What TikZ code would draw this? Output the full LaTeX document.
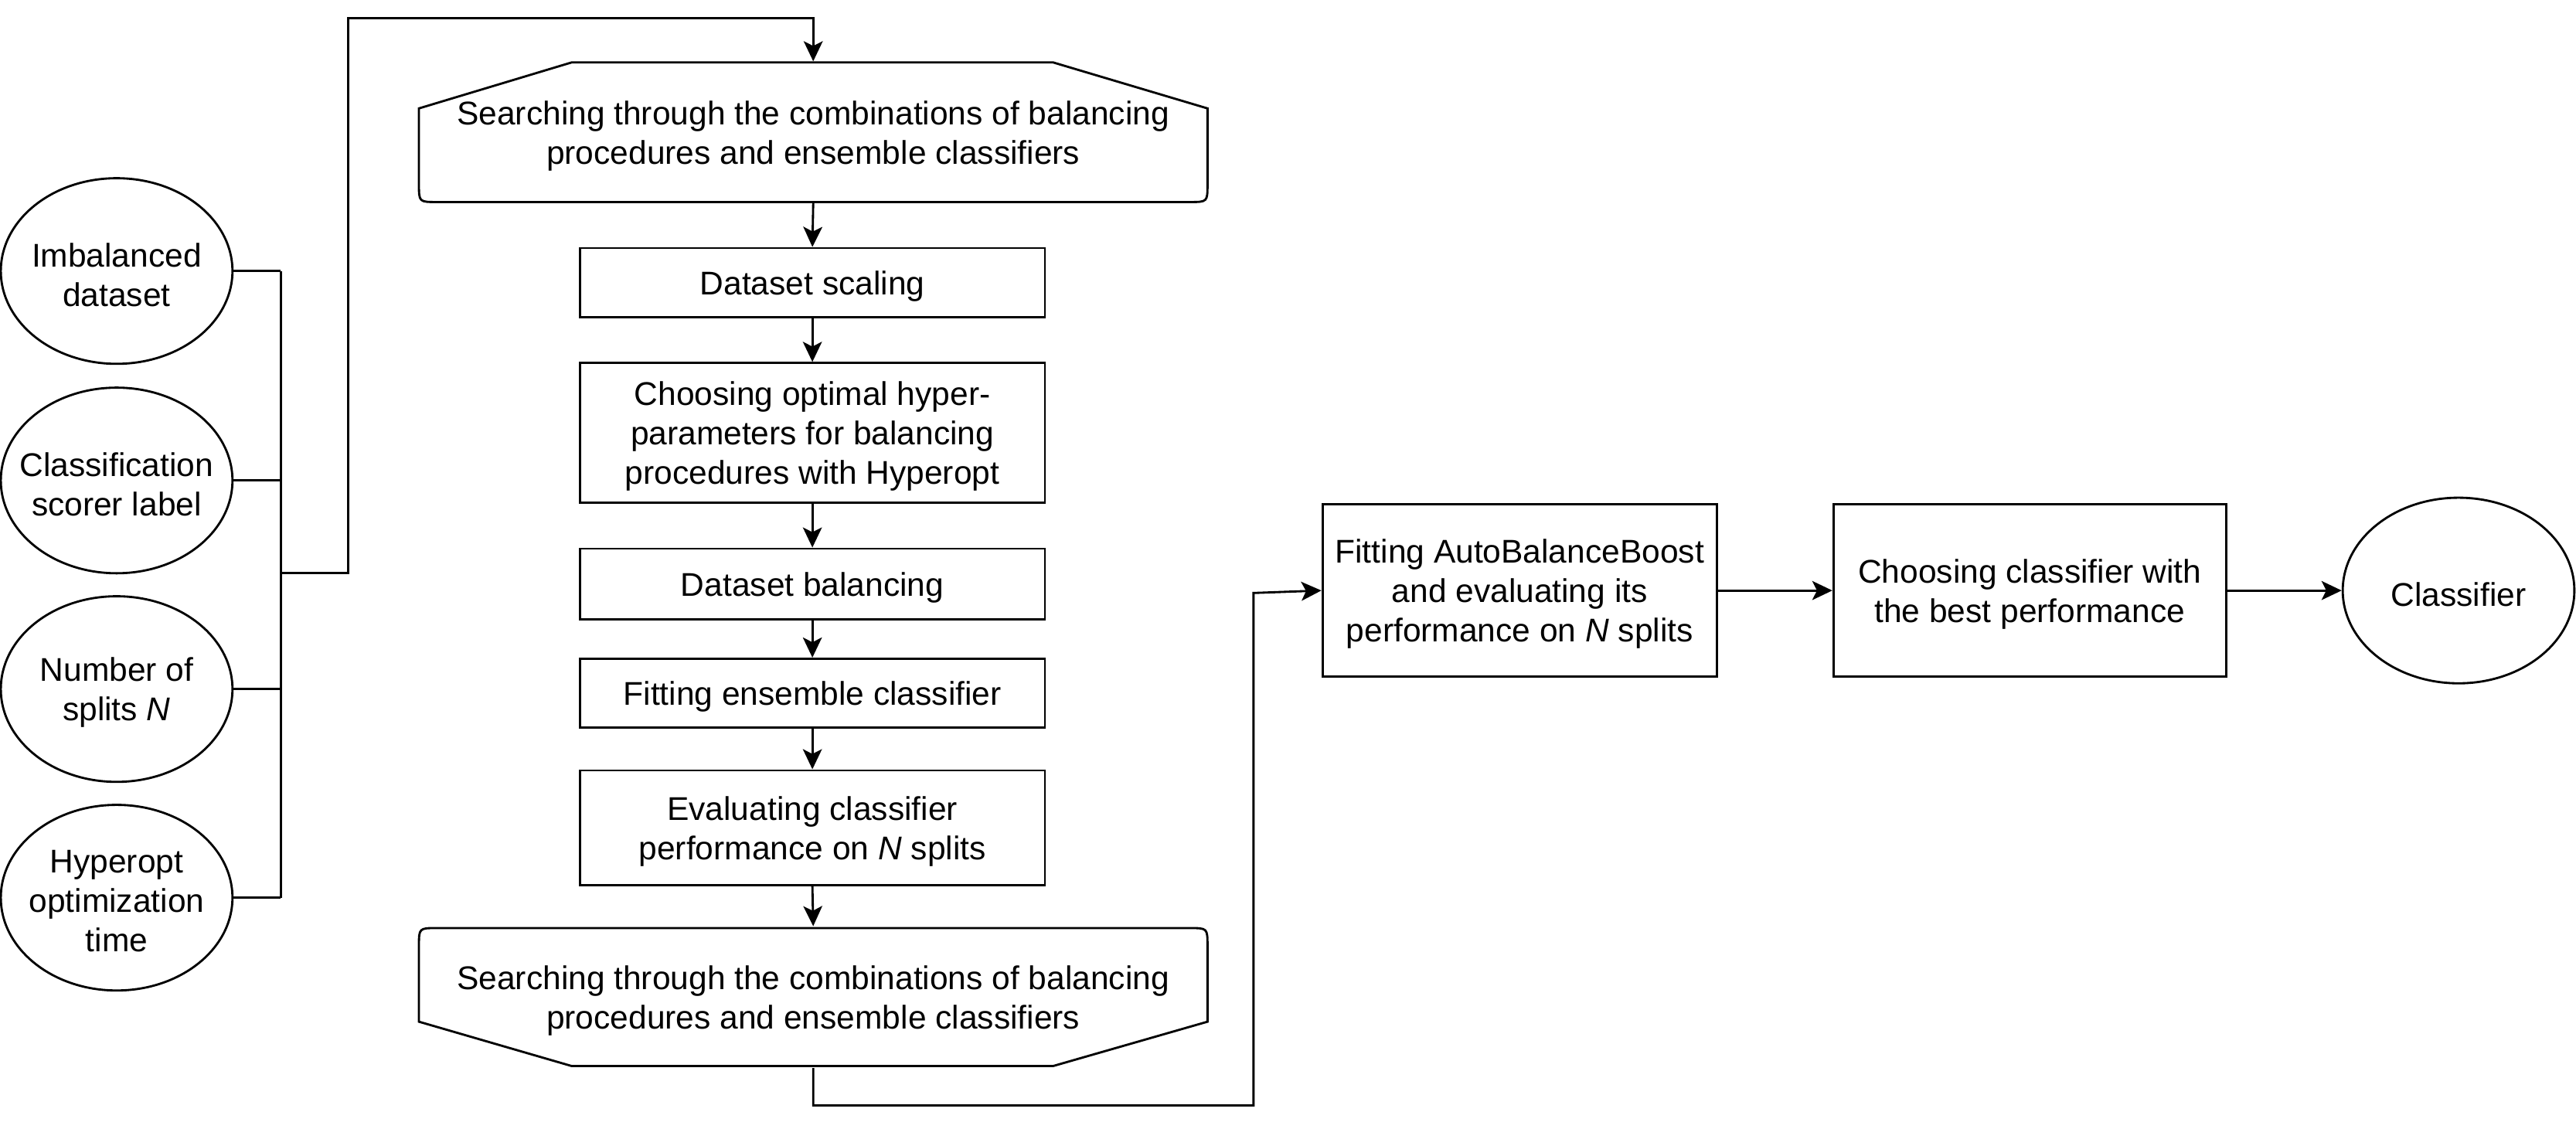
\documentclass[tikz,border=0pt]{standalone}
\usepackage{fontspec}
\setmainfont{Liberation Sans}
\usetikzlibrary{arrows.meta,shapes.geometric}
\begin{document}
\begin{tikzpicture}[x=0.45pt,y=-0.45pt,
  line width=0.6pt,
  txt/.style={font=\fontsize{9}{10.8}\selectfont, align=center, inner sep=0pt, yshift=-1pt},
  box/.style={draw, line width=0.6pt, inner sep=0pt, minimum width=127.35pt},
  ell/.style={draw, ellipse, line width=0.6pt, inner sep=0pt, minimum width=63.45pt, minimum height=50.85pt},
  loopnode/.style={inner sep=0pt, minimum width=216pt, minimum height=38.25pt},
  arr/.style={-{Stealth[length=5.5pt,width=5.2pt,inset=1.3pt]}}]
\useasboundingbox (0,0) rectangle (1568,687);

% input ellipses
\node[ell] (in1) at (71,165) {};
\node[txt] (t1) at (in1) {Imbalanced\\dataset};
\node[ell] (in2) at (71,292.5) {};
\node[txt] (t2) at (in2) {Classification\\scorer label};
\node[ell] (in3) at (71,419.5) {};
\node[txt] (t3) at (in3) {Number of\\splits \textit{N}};
\node[ell] (in4) at (71,546.5) {};
\node[txt] (t4) at (in4) {Hyperopt\\optimization\\time};

% top loop shape
\node[loopnode] (loop1) at (495,80.5) {};
\node[txt] (tl1) at (loop1) {Searching through the combinations of balancing\\procedures and ensemble classifiers};
\draw (255,66) -- (348,38) -- (641,38) -- (735,66) -- (735,112)
  .. controls (735,123) .. (724,123) -- (266,123)
  .. controls (255,123) .. (255,112) -- cycle;

% column boxes
\node[box, minimum height=18.9pt] (scale) at (494.5,172) {};
\node[txt] (ts) at (scale) {Dataset scaling};
\node[box, minimum height=38.25pt] (hyper) at (494.5,263.5) {};
\node[txt] (th) at (hyper) {Choosing optimal hyper-\\parameters for balancing\\procedures with Hyperopt};
\node[box, minimum height=19.35pt] (bal) at (494.5,355.5) {};
\node[txt] (tb) at (bal) {Dataset balancing};
\node[box, minimum height=18.9pt] (fit) at (494.5,422) {};
\node[txt] (tf) at (fit) {Fitting ensemble classifier};
\node[box, minimum height=31.5pt] (eval) at (494.5,504) {};
\node[txt] (te) at (eval) {Evaluating classifier\\performance on \textit{N} splits};

% bottom loop shape
\node[loopnode] (loop2) at (495,607) {};
\node[txt] (tl2) at (loop2) {Searching through the combinations of balancing\\procedures and ensemble classifiers};
\draw (255,576) .. controls (255,565) .. (266,565) -- (724,565)
  .. controls (735,565) .. (735,576) -- (735,622) -- (641,649)
  -- (348,649) -- (255,622) -- cycle;

% right part
\node[box, minimum width=108pt, minimum height=47.25pt] (abb) at (925,359.5) {};
\node[txt] (ta) at (abb) {Fitting AutoBalanceBoost\\and evaluating its\\performance on \textit{N} splits};
\node[box, minimum width=107.55pt, minimum height=47.25pt] (choose) at (1235.5,359.5) {};
\node[txt] (tch) at (choose) {Choosing classifier with\\the best performance};
\node[ell] (cls) at (1496.5,359.5) {};
\node[txt] (tc) at (cls) {Classifier};

% bus from inputs
\coordinate (b1) at (171,165);
\coordinate (b2) at (171,292.5);
\coordinate (b3) at (171,419.5);
\coordinate (b4) at (171,546.5);
\coordinate (bj) at (171,349);
\draw (in1.east) -- (b1);
\draw (in2.east) -- (b2);
\draw (in3.east) -- (b3);
\draw (in4.east) -- (b4);
\draw (b1) -- (b4);
\draw[arr] (bj) -- (212,349) -- (212,11) -- (495,11) -- (loop1.north);

% column arrows
\draw[arr] (loop1.south) -- (scale.north);
\draw[arr] (scale.south) -- (hyper.north);
\draw[arr] (hyper.south) -- (bal.north);
\draw[arr] (bal.south) -- (fit.north);
\draw[arr] (fit.south) -- (eval.north);
\draw[arr] (eval.south) -- (loop2.north);

% bottom to right
\draw[arr] (loop2.south) -- (495,673) -- (763,673) -- (763,361) -- (abb.west);
\draw[arr] (abb.east) -- (choose.west);
\draw[arr] (choose.east) -- (cls.west);
\end{tikzpicture}
\end{document}
